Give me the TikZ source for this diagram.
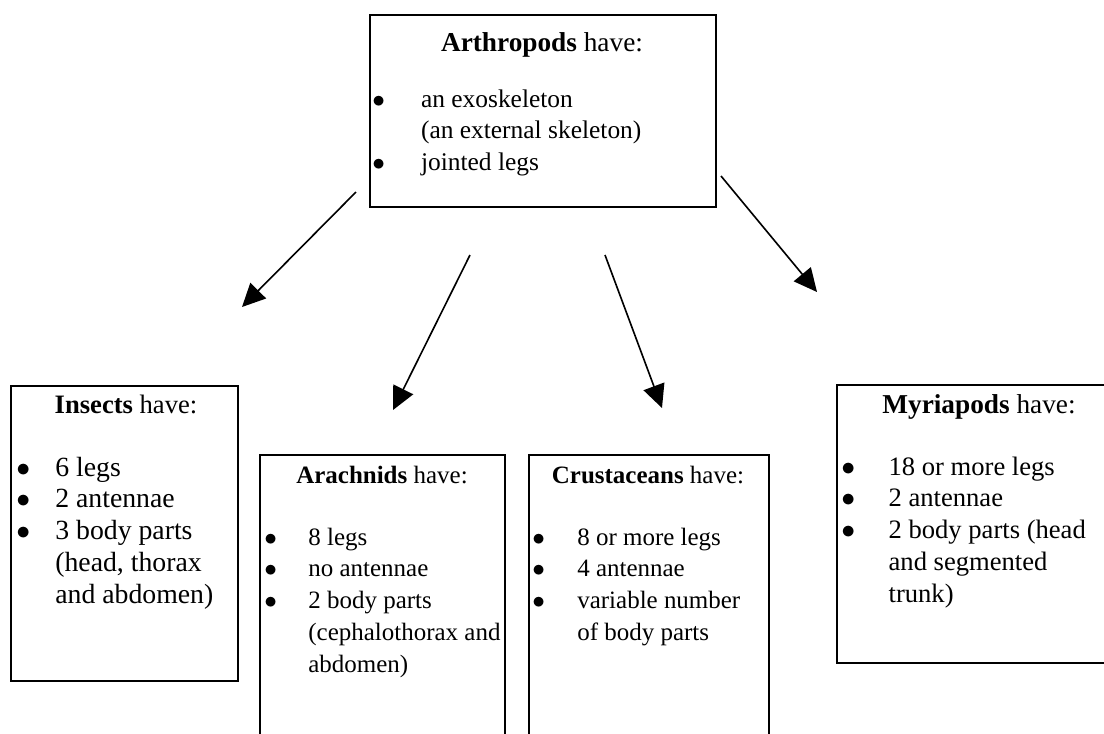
\documentclass[tikz,border=0pt]{standalone}
\usepackage{fontspec}
\setmainfont{Liberation Serif}
\usepackage{tikz}
\usetikzlibrary{arrows.meta}
\tikzset{
	boxstyle/.style={rectangle,draw=black,line width=0.8pt,fill=white,anchor=north west,inner sep=0pt},
	titlestyle/.style={anchor=base,inner sep=0pt,font=\fontsize{#1}{13.8}\selectfont},
	titlestyle/.default=12,
	liststyle/.style={anchor=base west,inner sep=0pt,font=\fontsize{#1}{13.8}\selectfont},
	liststyle/.default=12,
	arrowstyle/.style={line width=0.7pt,-{Triangle[length=10pt,width=9.5pt]}}
}
\newcommand{\bulletlist}[2]{\begin{tabular}[t]{@{}p{#1}@{}l@{}}#2\end{tabular}}
\newcommand{\bul}{$\bullet$}

\begin{document}
\begin{tikzpicture}[x=0.0152cm,y=-0.0152cm]
		\useasboundingbox (0,0) rectangle (1104,733);
		\clip (0,0) rectangle (1104,733);
		% boxes
		\node[boxstyle,minimum width=5.26cm,minimum height=2.92cm] (arth) at (369,14) {};
		\node[boxstyle,minimum width=3.45cm,minimum height=4.48cm] (ins) at (10,385) {};
		\node[boxstyle,minimum width=3.72cm,minimum height=4.86cm] (arach) at (259,454) {};
		\node[boxstyle,minimum width=3.65cm,minimum height=4.86cm] (crust) at (528,454) {};
		\node[boxstyle,minimum width=4.41cm,minimum height=4.23cm] (myria) at (836,384) {};
		% titles
		\node[titlestyle=11.8] (arthT) at (542,51) {\textbf{Arthropods} have:};
		\node[titlestyle=11.5] (insT) at (126,413) {\textbf{Insects} have:};
		\node[titlestyle=10.8] (arachT) at (382,483) {\textbf{Arachnids} have:};
		\node[titlestyle=10.8] (crustT) at (648,483) {\textbf{Crustaceans} have:};
		\node[titlestyle=11.8] (myriaT) at (979,413) {\textbf{Myriapods} have:};
		% lists
		\node[liststyle=11] (arthL) at (372,107) {\bulletlist{21pt}{\bul & an exoskeleton\\
			& (an external skeleton)\\
			\bul & jointed legs}};
		\node[liststyle] (insL) at (16,476) {\bulletlist{16.8pt}{\bul & 6 legs\\
			\bul & 2 antennae\\
			\bul & 3 body parts\\
			& (head, thorax\\
			& and abdomen)}};
		\node[liststyle=10.8] (arachL) at (264,545) {\bulletlist{19pt}{\bul & 8 legs\\
			\bul & no antennae\\
			\bul & 2 body parts\\
			& (cephalothorax and\\
			& abdomen)}};
		\node[liststyle=10.8] (crustL) at (532,545) {\bulletlist{19.4pt}{\bul & 8 or more legs\\
			\bul & 4 antennae\\
			\bul & variable number\\
			& of body parts}};
		\node[liststyle=11.5] (myriaL) at (841,475) {\bulletlist{20.4pt}{\bul & 18 or more legs\\
			\bul & 2 antennae\\
			\bul & 2 body parts (head\\
			& and segmented\\
			& trunk)}};
		% arrows
		\coordinate (insA) at (356,192);
		\coordinate (insB) at (242,307);
		\coordinate (arachA) at (470,255);
		\coordinate (arachB) at (393,410);
		\coordinate (crustA) at (605,255);
		\coordinate (crustB) at (662,408);
		\coordinate (myriaA) at (721,176);
		\coordinate (myriaB) at (817,292);
		\draw[arrowstyle] (insA)--(insB);
		\draw[arrowstyle] (arachA)--(arachB);
		\draw[arrowstyle] (crustA)--(crustB);
		\draw[arrowstyle] (myriaA)--(myriaB);
		\end{tikzpicture}
\end{document}
